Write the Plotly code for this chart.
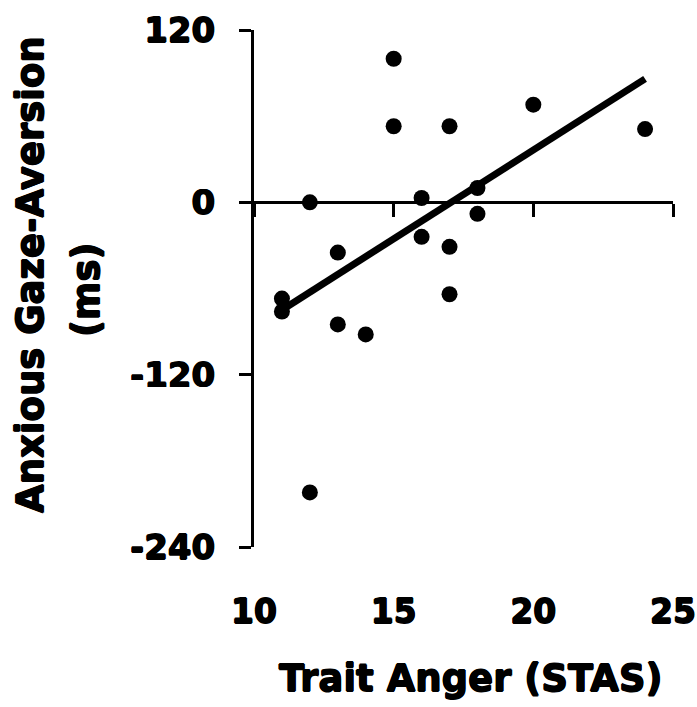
import numpy as np
import plotly.graph_objects as go

trait_anger = [11, 11, 12, 12, 13, 13, 14, 15, 15, 16, 16, 17, 17, 17, 18, 18, 20, 24]
gaze_aversion = [-67, -76, 0, -202, -35, -85, -92, 100, 53, 3, -24, 53, -31, -64, 10, -8, 68, 51]

x_ticks = [10, 15, 20, 25]
x_tick_text = ["10", "15", "20", "25"]
y_ticks = [120, 0, -120, -240]
y_tick_text = ["120", "0", "-120", "-240"]

slope, intercept = np.polyfit(trait_anger, gaze_aversion, 1)
fit_x = [min(trait_anger), max(trait_anger)]
fit_y = [slope * v + intercept for v in fit_x]

FAM = "DejaVu Sans, sans-serif"
SH = "0.7px 0 0 black, -0.7px 0 0 black, 0 0.7px 0 black, 0 -0.7px 0 black"


def f(size):
    return dict(family=FAM, size=size, color="black", weight="bold", shadow=SH)


fig = go.Figure()
fig.add_trace(go.Scatter(x=fit_x, y=fit_y, mode="lines",
                         line=dict(color="black", width=7), xaxis="x2", showlegend=False))
fig.add_trace(go.Scatter(x=trait_anger, y=gaze_aversion, mode="markers",
                         marker=dict(color="black", size=16), showlegend=False))

fig.update_layout(
    width=697, height=707,
    margin=dict(l=254, r=24, t=30, b=160),
    plot_bgcolor="white", paper_bgcolor="white",
    font=f(34),
    xaxis=dict(range=[10, 25], tickvals=x_ticks, ticktext=x_tick_text, showline=False,
               showgrid=False, zeroline=False, ticks="", ticklabelstandoff=42,
               automargin=False, tickfont=f(33)),
    xaxis2=dict(range=[10, 25], tickvals=x_ticks, overlaying="x", anchor="free",
                position=(0 - (-240)) / 360, showline=True, linecolor="black",
                linewidth=3, ticks="outside", ticklen=13, tickwidth=3, automargin=False,
                tickcolor="black", showticklabels=False, showgrid=False, zeroline=False),
    yaxis=dict(range=[-240, 120], tickvals=y_ticks, ticktext=y_tick_text, showline=True,
               linecolor="black", linewidth=3, ticks="outside", ticklen=12, tickwidth=3,
               tickcolor="black", showgrid=False, zeroline=False, ticklabelstandoff=17,
               automargin=False, tickfont=f(34)),
    annotations=[
        dict(text="Trait Anger (STAS)", xref="paper", yref="paper",
             x=(470 - 254) / 419, y=(547 - 678) / 517, xanchor="center", yanchor="middle",
             showarrow=False, font=f(37)),
        dict(text="Anxious Gaze-Aversion", xref="paper", yref="paper",
             x=(30 - 254) / 419, y=(547 - 275) / 517, xanchor="center", yanchor="middle",
             textangle=-90, showarrow=False, font=f(37)),
        dict(text="(ms)", xref="paper", yref="paper",
             x=(86 - 254) / 419, y=(547 - 290) / 517, xanchor="center", yanchor="middle",
             textangle=-90, showarrow=False, font=f(37)),
    ],
)

fig.write_html(
    "out.html",
    config={"displayModeBar": False},
    post_script="document.body.style.margin='0';document.body.style.overflow='hidden';",
)
